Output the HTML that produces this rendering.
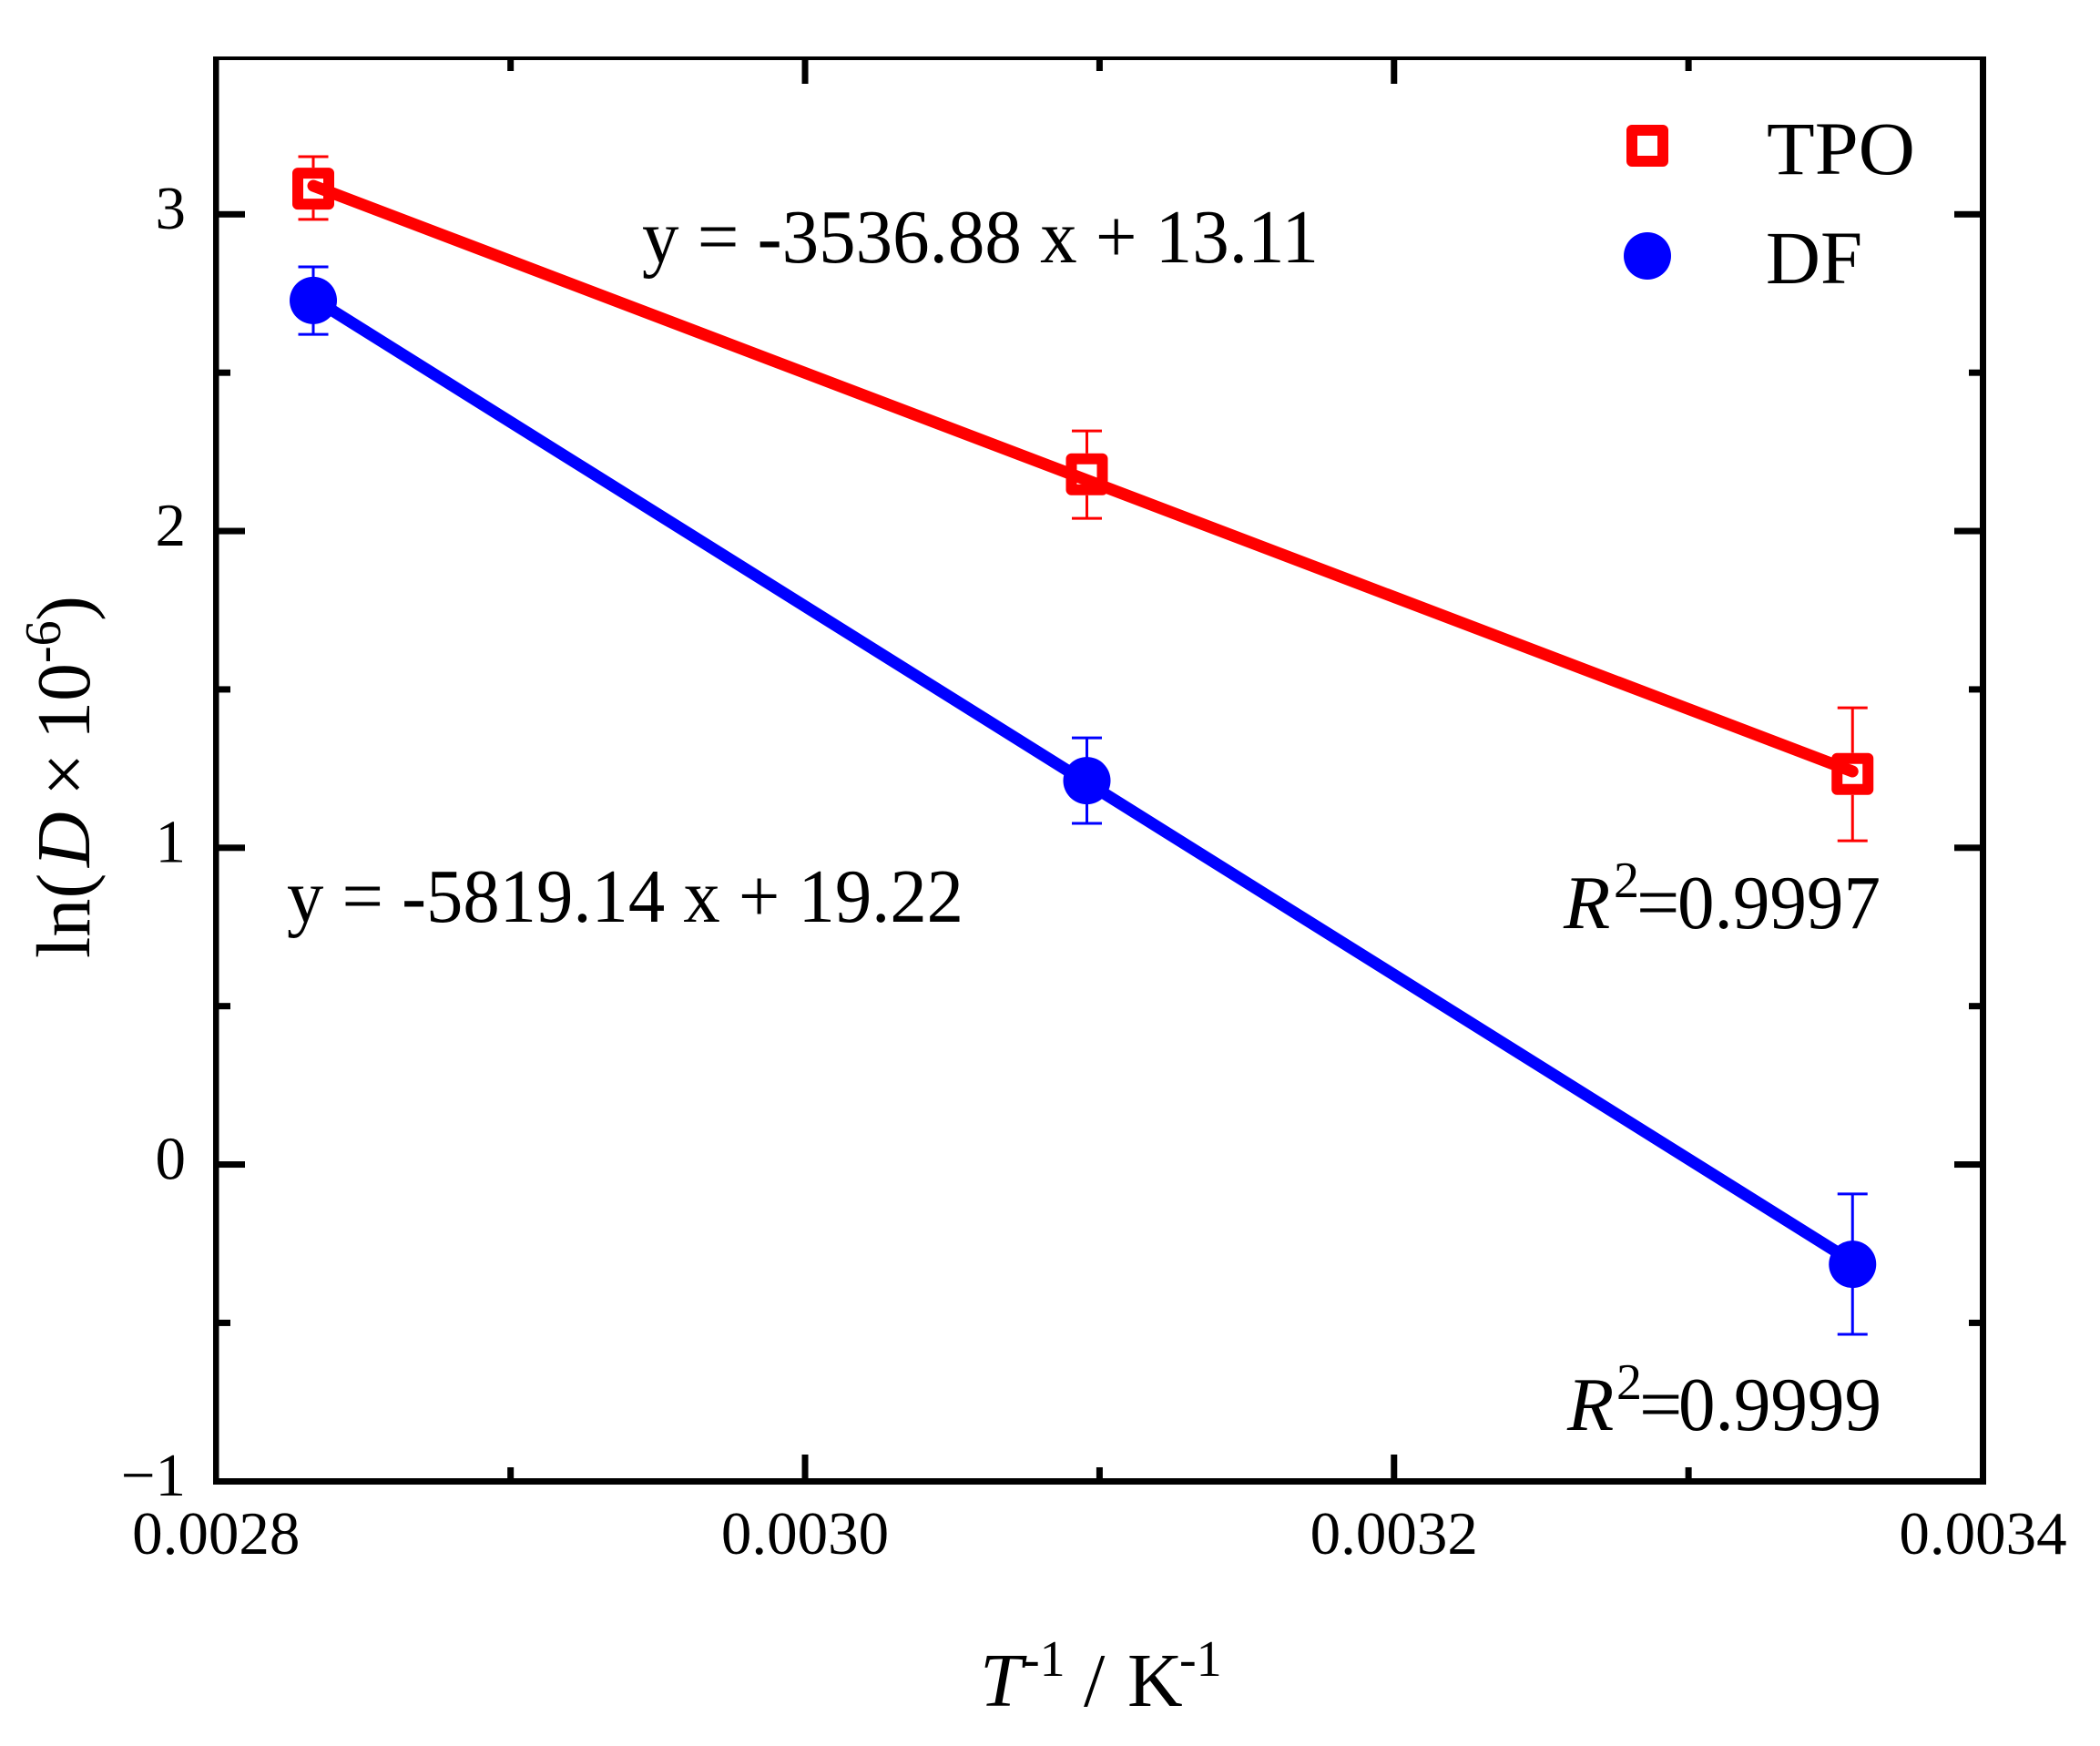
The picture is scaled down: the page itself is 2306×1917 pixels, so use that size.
<!DOCTYPE html>
<html lang="en">
<head>
<meta charset="utf-8">
<title>Arrhenius plot of ln(D) for TPO and DF</title>
<style>
html,body{margin:0;padding:0;background:#fff;width:2306px;height:1917px;overflow:hidden}
svg{display:block}
text{font-family:"Liberation Serif",serif;fill:#000}
</style>
</head>
<body>
<svg id="chart" xmlns="http://www.w3.org/2000/svg" width="2306" height="1917" viewBox="0 0 2306 1917">
  <rect x="0" y="0" width="2306" height="1917" fill="#fff"/>
  <g id="ticks"></g>
  <g fill="#000">
    <rect x="234" y="62" width="6.5" height="1568"/>
    <rect x="2174" y="62" width="7" height="1568"/>
    <rect x="234" y="62" width="1947" height="4"/>
    <rect x="234" y="1623" width="1947" height="7"/>
  </g>
  <g id="tick-labels"></g>
  <g id="series"></g>

  <text transform="rotate(-90)" font-size="84"><tspan x="-1052" y="98">ln(</tspan><tspan x="-952" y="98" font-style="italic">D</tspan><tspan x="-874" y="98">×</tspan><tspan x="-812" y="98">10</tspan><tspan x="-728" y="66" font-size="56">-6</tspan><tspan x="-682" y="98">)</tspan></text>

  <text font-size="84"><tspan x="1076" y="1873" font-style="italic">T</tspan><tspan x="1123" y="1840" font-size="56">-1</tspan><tspan x="1190" y="1873">/</tspan><tspan x="1238" y="1873">K</tspan><tspan x="1295" y="1840" font-size="56">-1</tspan></text>

  <g>
    <rect x="1792" y="143" width="34" height="34" fill="none" stroke="#f00" stroke-width="12" stroke-linejoin="round"/>
    <text x="1940" y="191" font-size="83" textLength="163" lengthAdjust="spacingAndGlyphs">TPO</text>
    <circle cx="1809" cy="281" r="26" fill="#00f"/>
    <text x="1939" y="311" font-size="83">DF</text>
  </g>

  <text x="705" y="288" font-size="84" textLength="743" lengthAdjust="spacingAndGlyphs">y = -3536.88 x + 13.11</text>
  <text x="315" y="1012" font-size="84" textLength="743" lengthAdjust="spacingAndGlyphs">y = -5819.14 x + 19.22</text>

  <g font-size="84">
    <text x="1717" y="1019" font-style="italic">R</text>
    <text x="1772" y="985" font-size="56">2</text>
    <text x="1797" y="1019">=</text>
    <text x="1842" y="1019" textLength="223" lengthAdjust="spacingAndGlyphs">0.9997</text>
  </g>
  <g font-size="84">
    <text x="1721" y="1570" font-style="italic">R</text>
    <text x="1775" y="1536" font-size="56">2</text>
    <text x="1800" y="1570">=</text>
    <text x="1843" y="1570" textLength="223" lengthAdjust="spacingAndGlyphs">0.9999</text>
  </g>
</svg>
<script>
const xValues = [0.002833, 0.0030957, 0.0033557];
const tpoValues = [3.081, 2.179, 1.233];
const tpoErrorTop = [3.182, 2.316, 1.442];
const tpoErrorBottom = [2.984, 2.040, 1.022];
const tpoFitValues = [3.09, 1.241];
const dfValues = [2.728, 1.212, -0.315];
const dfErrorTop = [2.834, 1.347, -0.093];
const dfErrorBottom = [2.621, 1.077, -0.536];
const dfFitValues = [2.734, -0.307];
const xMajorTicks = [0.0030, 0.0032];
const xMinorTicks = [0.0029, 0.0031, 0.0033];
const yMajorTicks = [0, 1, 2, 3];
const yMinorTicks = [-0.5, 0.5, 1.5, 2.5];
const xTickLabels = ['0.0028', '0.0030', '0.0032', '0.0034'];
const xTickLabelValues = [0.0028, 0.0030, 0.0032, 0.0034];
const yTickLabels = ['−1', '0', '1', '2', '3'];
const yTickLabelValues = [-1, 0, 1, 2, 3];

const NS = 'http://www.w3.org/2000/svg';
function xScale(v) { return 237.3 + (v - 0.0028) * (2177.5 - 237.3) / 0.0006; }
function yScale(v) { return 1626.3 - (v + 1) * 347.75; }
function setAll(el, attrs) { for (const k in attrs) el.setAttribute(k, attrs[k]); return el; }
function make(tag, attrs, parent) {
  const el = document.createElementNS(NS, tag);
  setAll(el, attrs);
  parent.appendChild(el);
  return el;
}

const ticksGroup = document.getElementById('ticks');
const labelsGroup = document.getElementById('tick-labels');
const seriesGroup = document.getElementById('series');

function drawXTick(v, len, kind) {
  const bottom = make('rect', {x: xScale(v) - 3.5, y: 1623 - len, width: 7, height: len, fill: '#000'}, ticksGroup);
  
  
  const top = make('rect', {x: xScale(v) - 3.5, y: 66, width: 7, height: len, fill: '#000'}, ticksGroup);
  
  
}
function drawYTick(v, len, kind) {
  const left = make('rect', {x: 240, y: yScale(v) - 3.5, width: len, height: 7, fill: '#000'}, ticksGroup);
  
  
  const right = make('rect', {x: 2175 - len, y: yScale(v) - 3.5, width: len, height: 7, fill: '#000'}, ticksGroup);
  
  
}
xMajorTicks.forEach(function (v) { drawXTick(v, 26, 'major'); });
xMinorTicks.forEach(function (v) { drawXTick(v, 12, 'minor'); });
yMajorTicks.forEach(function (v) { drawYTick(v, 29, 'major'); });
yMinorTicks.forEach(function (v) { drawYTick(v, 13, 'minor'); });

xTickLabels.forEach(function (label, i) {
  const t = make('text', {x: xScale(xTickLabelValues[i]), y: 1706, 'font-size': 67, 'text-anchor': 'middle'}, labelsGroup);
  
  
  t.textContent = label;
});
yTickLabels.forEach(function (label, i) {
  const t = make('text', {x: 204, y: yScale(yTickLabelValues[i]) + 15.7, 'font-size': 67, 'text-anchor': 'end'}, labelsGroup);
  
  
  t.textContent = label;
});

function drawErrorBar(group, xv, yv, topV, botV, color, gap) {
  const px = xScale(xv), py = yScale(yv), pt = yScale(topV), pb = yScale(botV);
  const upper = make('line', {x1: px, x2: px, y1: pt, y2: py - gap, stroke: color, 'stroke-width': 3}, group);
  
  
  const lower = make('line', {x1: px, x2: px, y1: pb, y2: py + gap, stroke: color, 'stroke-width': 3}, group);
  
  
  const capTop = make('line', {x1: px - 16.5, x2: px + 16.5, y1: pt, y2: pt, stroke: color, 'stroke-width': 3}, group);
  
  
  const capBot = make('line', {x1: px - 16.5, x2: px + 16.5, y1: pb, y2: pb, stroke: color, 'stroke-width': 3}, group);
  
  
}
function drawFit(group, fit, color) {
  const l = make('line', {
    x1: xScale(xValues[0]), y1: yScale(fit[0]),
    x2: xScale(xValues[xValues.length - 1]), y2: yScale(fit[1]),
    stroke: color, 'stroke-width': 13, 'stroke-linecap': 'round'
  }, group);
  
  
}

const tpoGroup = make('g', {}, seriesGroup);


const dfGroup = make('g', {}, seriesGroup);



drawFit(tpoGroup, tpoFitValues, '#f00');
xValues.forEach(function (xv, i) {
  drawErrorBar(tpoGroup, xv, tpoValues[i], tpoErrorTop[i], tpoErrorBottom[i], '#f00', 23);
  const m = make('rect', {
    x: xScale(xv) - 17, y: yScale(tpoValues[i]) - 17, width: 34, height: 34,
    fill: 'none', stroke: '#f00', 'stroke-width': 12, 'stroke-linejoin': 'round'
  }, tpoGroup);
  
  
});

drawFit(dfGroup, dfFitValues, '#00f');
xValues.forEach(function (xv, i) {
  drawErrorBar(dfGroup, xv, dfValues[i], dfErrorTop[i], dfErrorBottom[i], '#00f', 20);
  const m = make('circle', {cx: xScale(xv), cy: yScale(dfValues[i]), r: 26, fill: '#00f'}, dfGroup);
  
  
});
</script>
</body>
</html>
